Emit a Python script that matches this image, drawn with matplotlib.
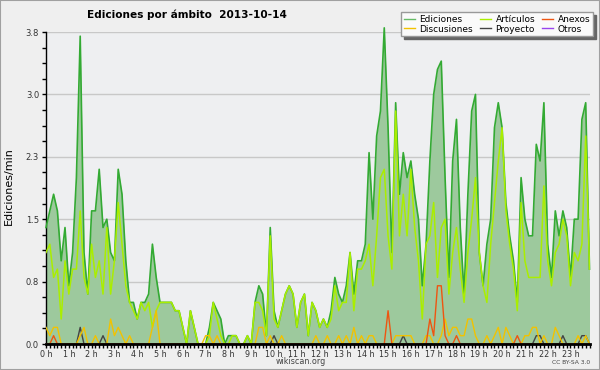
import numpy as np
import matplotlib
matplotlib.use("Agg")
import matplotlib.pyplot as plt
from matplotlib.lines import Line2D
from matplotlib.patches import Rectangle

# edits per minute, one value every 10 minutes (00:00 .. 23:50)
ediciones = [
    1.4, 1.6, 1.8, 1.6, 1.0, 1.4, 0.7, 1.1, 2.0, 3.7, 1.1, 0.6,
    1.6, 1.6, 2.1, 1.4, 1.5, 1.1, 1.0, 2.1, 1.8, 1.0, 0.5, 0.5,
    0.3, 0.5, 0.5, 0.6, 1.2, 0.8, 0.5, 0.5, 0.5, 0.5, 0.4, 0.4,
    0.2, 0.0, 0.4, 0.2, 0.0, 0.0, 0.0, 0.2, 0.5, 0.4, 0.3, 0.0,
    0.1, 0.1, 0.1, 0.0, 0.0, 0.1, 0.0, 0.5, 0.7, 0.6, 0.1, 1.4,
    0.4, 0.2, 0.4, 0.6, 0.7, 0.6, 0.2, 0.5, 0.6, 0.1, 0.5, 0.4,
    0.2, 0.3, 0.2, 0.4, 0.8, 0.6, 0.5, 0.7, 1.1, 0.6, 1.0, 1.0,
    1.2, 2.3, 1.5, 2.5, 2.8, 3.8, 2.6, 1.1, 2.9, 1.8, 2.3, 2.0,
    2.2, 1.8, 1.5, 0.7, 1.2, 2.2, 3.0, 3.3, 3.4, 2.0, 0.8, 2.2,
    2.7, 1.4, 0.6, 1.8, 2.8, 3.0, 1.1, 0.7, 1.2, 1.5, 2.6, 2.9,
    2.6, 1.7, 1.3, 1.0, 0.5, 2.0, 1.5, 1.3, 1.3, 2.4, 2.2, 2.9,
    1.2, 0.8, 1.6, 1.3, 1.6, 1.4, 0.8, 1.5, 1.5, 2.7, 2.9, 0.9,
]
articulos = [
    1.1, 1.2, 0.8, 0.9, 0.3, 1.0, 0.6, 0.9, 0.9, 1.6, 0.8, 0.6,
    1.2, 0.8, 1.0, 0.6, 1.4, 0.6, 1.0, 1.7, 1.2, 0.7, 0.5, 0.4,
    0.3, 0.5, 0.4, 0.5, 0.2, 0.4, 0.5, 0.5, 0.5, 0.5, 0.4, 0.4,
    0.2, 0.0, 0.4, 0.2, 0.0, 0.0, 0.0, 0.1, 0.5, 0.3, 0.1, 0.0,
    0.0, 0.1, 0.1, 0.0, 0.0, 0.1, 0.0, 0.5, 0.5, 0.4, 0.1, 1.3,
    0.3, 0.2, 0.4, 0.6, 0.7, 0.6, 0.2, 0.5, 0.6, 0.1, 0.5, 0.4,
    0.2, 0.3, 0.2, 0.3, 0.7, 0.4, 0.5, 0.5, 1.1, 0.4, 0.9, 0.9,
    1.0, 1.2, 0.7, 1.3, 2.0, 2.1, 1.3, 0.9, 2.8, 1.3, 1.8, 1.3,
    2.1, 1.4, 1.0, 0.3, 1.2, 1.3, 1.7, 0.8, 1.4, 1.5, 0.6, 1.1,
    1.4, 0.9, 0.5, 1.1, 1.5, 2.0, 1.1, 0.7, 0.5, 1.2, 1.7, 2.2,
    2.6, 1.6, 1.2, 0.9, 0.4, 1.7, 1.0, 0.8, 0.8, 0.8, 0.8, 1.9,
    1.0, 0.7, 1.1, 1.2, 1.5, 1.3, 0.7, 1.1, 1.0, 1.2, 2.5, 0.9,
]
discusiones = [
    0.2, 0.1, 0.2, 0.2, 0, 0, 0, 0, 0, 0.1, 0.2, 0,
    0, 0.1, 0, 0, 0, 0.3, 0.1, 0.2, 0.1, 0, 0.1, 0,
    0, 0, 0, 0, 0.2, 0.4, 0, 0, 0, 0, 0, 0,
    0, 0, 0, 0, 0, 0, 0.1, 0.1, 0, 0.1, 0, 0,
    0, 0, 0, 0, 0, 0, 0, 0, 0.2, 0.2, 0, 0.1,
    0, 0, 0.1, 0, 0, 0, 0, 0, 0, 0, 0, 0.1,
    0, 0, 0.1, 0, 0, 0.1, 0, 0.1, 0, 0.2, 0, 0.1,
    0, 0.1, 0.1, 0, 0, 0, 0, 0, 0.1, 0.1, 0.1, 0.1,
    0.1, 0, 0, 0, 0.1, 0.1, 0, 0, 0.1, 0.3, 0.1, 0.2,
    0.2, 0.1, 0.1, 0.3, 0.3, 0.1, 0, 0, 0.1, 0, 0.1, 0.2,
    0, 0.2, 0.1, 0, 0, 0, 0.1, 0.1, 0.2, 0.2, 0, 0.1,
    0, 0, 0.2, 0.1, 0, 0, 0, 0, 0.1, 0, 0.1, 0,
]
anexos = [
    0, 0, 0.1, 0, 0, 0, 0, 0, 0, 0, 0, 0,
    0, 0, 0, 0, 0, 0, 0, 0, 0, 0, 0, 0,
    0, 0, 0, 0, 0, 0, 0, 0, 0, 0, 0, 0,
    0, 0, 0, 0, 0, 0, 0, 0, 0, 0, 0, 0,
    0, 0, 0, 0, 0, 0, 0, 0, 0, 0, 0, 0,
    0, 0, 0, 0, 0, 0, 0, 0, 0, 0, 0, 0,
    0, 0, 0, 0, 0, 0, 0, 0, 0, 0, 0, 0,
    0, 0, 0, 0, 0, 0, 0.4, 0, 0, 0, 0, 0,
    0, 0, 0, 0, 0, 0.3, 0.1, 0.7, 0.7, 0.1, 0, 0,
    0.1, 0, 0, 0, 0, 0, 0, 0, 0, 0, 0, 0,
    0, 0, 0, 0, 0.1, 0, 0, 0, 0, 0, 0, 0,
    0, 0, 0, 0, 0, 0, 0, 0, 0, 0, 0, 0,
]
proyecto = [
    0, 0, 0, 0, 0, 0, 0, 0, 0, 0.2, 0, 0,
    0, 0, 0, 0.1, 0, 0, 0, 0, 0, 0, 0, 0,
    0, 0, 0, 0, 0, 0, 0, 0, 0, 0, 0, 0,
    0, 0, 0, 0, 0, 0, 0, 0, 0, 0, 0, 0,
    0, 0, 0, 0, 0, 0, 0, 0, 0, 0, 0, 0,
    0.1, 0, 0, 0, 0, 0, 0, 0, 0, 0, 0, 0,
    0, 0, 0, 0, 0, 0, 0, 0, 0, 0, 0, 0,
    0, 0, 0, 0, 0, 0, 0, 0, 0, 0, 0.1, 0,
    0, 0, 0, 0, 0, 0, 0, 0, 0, 0, 0, 0,
    0, 0, 0, 0, 0, 0, 0, 0, 0, 0, 0, 0,
    0, 0, 0, 0, 0, 0, 0, 0, 0, 0.1, 0.1, 0,
    0, 0, 0, 0, 0.1, 0, 0, 0, 0, 0.1, 0.1, 0,
]
otros = [0] * 144

hour_labels = [f"{h} h" for h in range(24)]
ytick_vals = [0, 0.75, 1.5, 2.25, 3.0, 3.75]
ytick_labels = ["0.0", "0.8", "1.5", "2.3", "3.0", "3.8"]

t = np.arange(len(ediciones)) / 6.0

fig = plt.figure(figsize=(6, 3.7), dpi=100, facecolor="#efefef")
ax = fig.add_axes([46 / 600, 26 / 370, 543.5 / 600, 312 / 370])
ax.set_facecolor("#eeeff1")

ax.fill_between(t, 0, ediciones, color="#9dc99d", lw=0, zorder=2, clip_on=False)
ax.plot(t, ediciones, color="#33aa33", lw=1.2, zorder=3, clip_on=False)
ax.plot(t, articulos, color="#aaee00", lw=1.1, zorder=4)
ax.plot(t, otros, color="#9944ee", lw=1, zorder=5)
ax.plot(t, proyecto, color="#444444", lw=1, zorder=6)
ax.plot(t, discusiones, color="#f2c200", lw=1, zorder=7)
ax.plot(t, anexos, color="#ee5511", lw=1, zorder=8)

ax.set_xlim(0, t[-1])
ax.set_ylim(0, 3.75)

ax.set_xticks(np.arange(24))
ax.set_xticklabels(hour_labels)
ax.set_xticks(t, minor=True)
ax.tick_params(axis="x", which="both", direction="out", length=3, width=1,
               color="black", labelsize=5.8, pad=1, labelcolor="#333333")

ax.set_yticks(ytick_vals)
ax.set_yticklabels(ytick_labels)
ax.set_yticks(np.arange(0, 3.76, 0.1875), minor=True)
ax.tick_params(axis="y", which="both", direction="out", length=3, width=1,
               color="black", labelsize=6, pad=2, labelcolor="#333333")

ax.yaxis.grid(True, color="#c8c8c8", lw=1)
ax.set_axisbelow(True)
for s in ["top", "right"]:
    ax.spines[s].set_visible(False)
ax.spines["bottom"].set_linewidth(2)
ax.spines["bottom"].set_zorder(10)
ax.spines["left"].set_linewidth(1)

fig.text(187 / 600, 1 - 15 / 370, "Ediciones por ámbito  2013-10-14",
         ha="center", va="center", fontsize=7.6, fontweight="bold")
fig.text(9 / 600, 1 - 186 / 370, "Ediciones/min", rotation=90,
         ha="center", va="center", fontsize=8)
fig.text(301 / 600, 1 - 362 / 370, "wikiscan.org", ha="center", va="center",
         fontsize=5.8, color="#444444")
fig.text(590 / 600, 1 - 362 / 370, "CC BY-SA 3.0", ha="right", va="center",
         fontsize=4.3, color="#444444")

handles = [
    Line2D([], [], color="#66bb66", lw=1),
    Line2D([], [], color="#f2c200", lw=1),
    Line2D([], [], color="#aaee00", lw=1),
    Line2D([], [], color="#444444", lw=1),
    Line2D([], [], color="#ee5511", lw=1),
    Line2D([], [], color="#9944ee", lw=1),
]
labels = ["Ediciones", "Discusiones", "Artículos", "Proyecto", "Anexos", "Otros"]
leg = fig.legend(handles, labels, ncol=3, loc="upper right",
                 bbox_to_anchor=(593 / 600, 1 - 12 / 370), fontsize=6.5,
                 frameon=True, fancybox=False, framealpha=1,
                 shadow={"color": "#666666", "alpha": 1},
                 handlelength=1.2, handletextpad=0.5, columnspacing=0.8,
                 labelspacing=0.1, borderpad=0.3, borderaxespad=0)
leg.get_frame().set_edgecolor("#999999")
leg.get_frame().set_facecolor("#fafafa")
leg.get_frame().set_linewidth(1)

fig.patches.append(Rectangle((0, 0), 1, 1, transform=fig.transFigure, fill=False,
                             edgecolor="#a0a0a0", lw=1.5))

fig.savefig("out.png", dpi=100, facecolor=fig.get_facecolor())
